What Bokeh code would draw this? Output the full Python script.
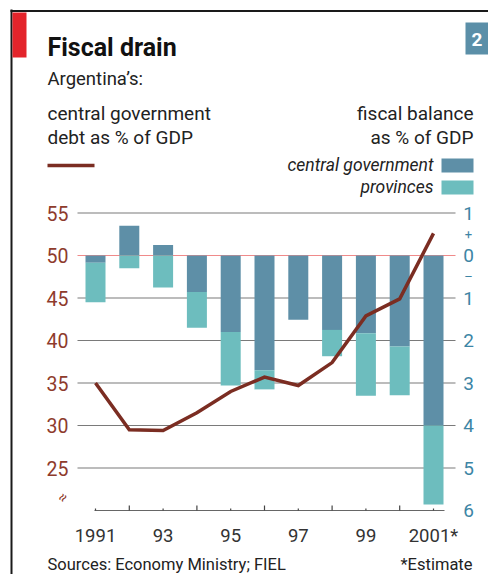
from bokeh.plotting import figure
from bokeh.models import Range1d, ColumnDataSource
from bokeh.core.properties import value
from bokeh.embed import file_html
from bokeh.resources import INLINE

# ---------------- data ----------------
years = [1991, 1992, 1993, 1994, 1995, 1996, 1997, 1998, 1999, 2000, 2001]
debt_pct_gdp = [35.0, 29.5, 29.4, 31.5, 34.0, 35.7, 34.7, 37.4, 42.9, 44.9, 52.6]
central_balance = [-0.17, 0.7, 0.25, -0.86, -1.8, -2.7, -1.51, -1.75, -1.83, -2.14, -4.0]
provinces_balance = [-0.93, -0.3, -0.75, -0.84, -1.26, -0.45, 0.0, -0.62, -1.47, -1.15, -1.86]

left_ticks = [25, 30, 35, 40, 45, 50, 55]
left_tick_labels = ["25", "30", "35", "40", "45", "50", "55"]
right_ticks = [1, 0, -1, -2, -3, -4, -5, -6]
right_tick_labels = ["1", "0", "1", "2", "3", "4", "5", "6"]
x_label_years = [1991, 1993, 1995, 1997, 1999, 2001]
x_tick_labels = ["1991", "93", "95", "97", "99", "2001*"]

# ---------------- geometry (picture pixels -> data) ----------------
W, H, OFF = 488, 574, 0
PX_YEAR, X_REF = 33.8, 95.0
PX_UNIT, Y_REF = 8.5, 255.0


def X(px):
    return 1991 + (px - X_REF) / PX_YEAR


def Y(py):
    return 50 - (py - Y_REF) / PX_UNIT


def DY(px):
    return px / PX_UNIT


FONT = "Roboto"
DARK = "#5e8fa7"
LIGHT = "#6dbdbe"
BROWN = "#7b2d22"
LEFTC = "#8e3b2c"
RIGHTC = "#3d85a5"

y0, y1 = Y(OFF + H), Y(OFF)
p = figure(width=W, height=H, x_range=Range1d(X(OFF), X(OFF + W)),
           y_range=Range1d(y0, y1), output_backend="svg", toolbar_location=None,
           x_axis_type=None, y_axis_type=None, min_border=0,
           outline_line_color=None, background_fill_color="white")
p.grid.visible = False
p.extra_y_ranges = {"bal": Range1d((y0 - 50) / 5, (y1 - 50) / 5)}


def txt(x, y, s, size, color="#222222", align="left", baseline="middle",
        style="normal", angle=0.0, y_range_name="default"):
    p.text(x=x, y=y, text=s if isinstance(s, list) else [s],
           text_font=value(FONT), text_font_size=f"{size}px",
           text_color=color, text_align=align, text_baseline=baseline,
           text_font_style=style, angle=angle, y_range_name=y_range_name)


# ---------------- frame / header ----------------
p.segment(x0=[X(11)], y0=[Y(9)], x1=[X(11)], y1=[Y(600)], line_color="#1a1a1a", line_width=2)
p.segment(x0=[X(10)], y0=[Y(10.5)], x1=[X(500)], y1=[Y(10.5)], line_color="#1a1a1a", line_width=2)
p.quad(left=[X(12)], right=[X(26)], top=[Y(12)], bottom=[Y(57)], fill_color="#e3242b", line_color=None)
p.quad(left=[X(465)], right=[X(488)], top=[Y(22)], bottom=[Y(54)], fill_color="#5b8fa8", line_color=None)
txt([X(476.5)], [Y(38.5)], "2", 19, color="white", align="center", style="bold")

txt([X(47)], [Y(47)], "Fiscal drain", 25, color="#111111", style="bold")
txt([X(47)], [Y(78)], "Argentina’s:", 18.5)
txt([X(47)], [Y(113)], "central government", 19)
txt([X(47)], [Y(136.5)], "debt as % of GDP", 19)
txt([X(473)], [Y(113)], "fiscal balance", 19, align="right")
txt([X(473)], [Y(136.5)], "as % of GDP", 19, align="right")

p.segment(x0=[X(47)], y0=[Y(165)], x1=[X(94)], y1=[Y(165)], line_color=BROWN, line_width=3.5)
txt([X(433)], [Y(164.5)], "central government", 17.5, color="#222222", align="right", style="italic")
p.quad(left=[X(441)], right=[X(473)], top=[Y(158)], bottom=[Y(172)], fill_color=DARK, line_color=None)
txt([X(433)], [Y(186)], "provinces", 17.5, color="#222222", align="right", style="italic")
p.quad(left=[X(441)], right=[X(473)], top=[Y(180)], bottom=[Y(194)], fill_color=LIGHT, line_color=None)

txt([X(47)], [Y(563.5)], "Sources: Economy Ministry; FIEL", 16.5)
txt([X(472)], [Y(563.5)], "*Estimate", 16.5, align="right")

# ---------------- grid ----------------
grid_vals = [v for v in left_ticks if v != 50]
p.segment(x0=[X(77)] * len(grid_vals), x1=[X(455)] * len(grid_vals), y0=grid_vals, y1=grid_vals,
          line_color="#7a7a7a", line_width=1.2)
p.segment(x0=[X(77)], x1=[X(455)], y0=[50], y1=[50], line_color="#f08a8a", line_width=1.2)

# ---------------- bars ----------------
c_bottom = [min(0, c) for c in central_balance]
c_top = [max(0, c) for c in central_balance]
p_bottom, p_top = [], []
for c, pv in zip(central_balance, provinces_balance):
    if pv < 0:
        base = min(c, 0)
        p_bottom.append(base + pv)
        p_top.append(base)
    else:
        base = max(c, 0)
        p_bottom.append(base)
        p_top.append(base + pv)

src = ColumnDataSource(dict(x=years, cb=c_bottom, ct=c_top, pb=p_bottom, pt=p_top))
bw = 20 / PX_YEAR
p.vbar(x="x", width=bw, bottom="cb", top="ct", source=src, fill_color=DARK, line_color=None,
       y_range_name="bal")
p.vbar(x="x", width=bw, bottom="pb", top="pt", source=src, fill_color=LIGHT, line_color=None,
       y_range_name="bal")

# ---------------- debt line ----------------
p.line(x=years, y=debt_pct_gdp, line_color=BROWN, line_width=3.5, line_join="miter")

# ---------------- axes (drawn) ----------------
txt([X(68)] * len(left_ticks), left_ticks, left_tick_labels, 19.5, color=LEFTC, align="right")
txt([X(468)] * len(right_ticks), right_ticks, right_tick_labels, 19, color=RIGHTC, align="center",
    y_range_name="bal")
txt([X(468), X(468)], [0.5, -0.5], ["+", "–"], 13, color=RIGHTC, align="center",
    y_range_name="bal")

base_v = 20
p.segment(x0=[X(94)], x1=[X(444)], y0=[base_v], y1=[base_v], line_color="#666666", line_width=1.2)
tick_h = [DY(5) if yr % 2 == 0 else DY(2) for yr in years]
p.segment(x0=years, x1=years, y0=[base_v] * len(years), y1=[base_v + h for h in tick_h],
          line_color="#444444", line_width=1.2)
txt(x_label_years, [Y(535)] * len(x_label_years), x_tick_labels, 18.5, color="#333333", align="center")
txt([X(62)], [Y(497)], "≈", 15, color=LEFTC, align="center", angle=1.0)

open("out.html", "w").write(file_html(p, INLINE))
